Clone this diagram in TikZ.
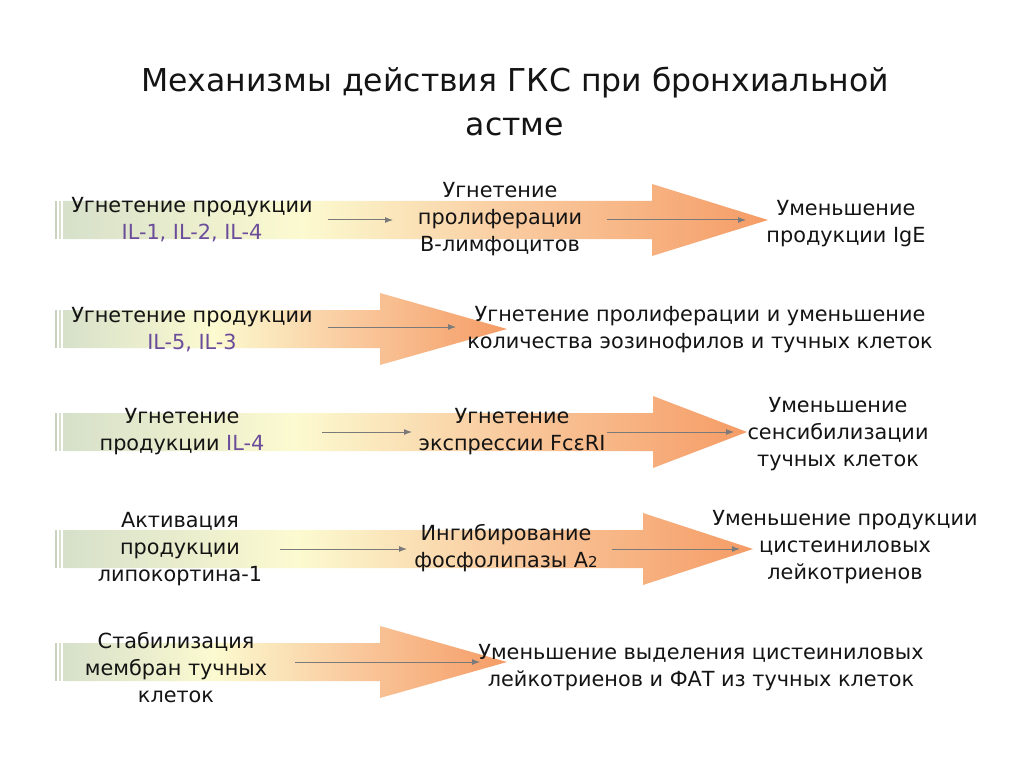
\documentclass[tikz,border=0pt]{standalone}
\usepackage{fontspec}
\setmainfont{DejaVu Sans}
\usetikzlibrary{arrows.meta}
\definecolor{tailc}{HTML}{D6E0CA}
\definecolor{midc}{HTML}{FCFAD0}
\definecolor{warmc}{HTML}{F9C89C}
\definecolor{headc}{HTML}{F59C66}
\pgfdeclarehorizontalshading{bigarrowshade}{100bp}{color(0bp)=(tailc); color(25bp)=(tailc); color(42bp)=(midc); color(58bp)=(warmc); color(75bp)=(headc); color(100bp)=(headc)}
\newcommand\bigarrow[3]{%
\fill[tailc!85!gray] (55,#1-19) rectangle (57,#1+19);
\fill[tailc] (59,#1-19) rectangle (61,#1+19);
\shade[shading=bigarrowshade] (63,#1-19) -- (#2,#1-19) -- (#2,#1-36) -- (#3,#1) -- (#2,#1+36) -- (#2,#1+19) -- (63,#1+19) -- cycle;}
\begin{document}
\begin{tikzpicture}[x=1pt,y=-1pt,
  txt/.style={align=center,inner sep=0pt,text=ink,font=\fontsize{20.8}{27}\selectfont},
  thin/.style={color0,line width=1pt,-{Latex[length=8pt,width=6pt]}}]
\definecolor{color0}{HTML}{7A7A7A}
\definecolor{ink}{HTML}{141414}
\definecolor{il}{HTML}{6B4C9A}
\useasboundingbox[fill=white] (0,0) rectangle (1024,767);
\node[txt,font=\fontsize{31.5}{44}\selectfont] (title) at (515,101) {Механизмы действия ГКС при бронхиальной\\астме};
\bigarrow{220}{652}{768}
\bigarrow{329}{380}{507}
\bigarrow{432}{653}{747}
\bigarrow{549}{643}{753}
\bigarrow{662}{380}{507}
\node[txt] (l1) at (192,220) {Угнетение продукции\\\textcolor{il}{IL-1, IL-2, IL-4}};
\node[txt] (m1) at (500,219) {Угнетение\\пролиферации\\В-лимфоцитов};
\node[txt] (r1) at (846,224) {Уменьшение\\продукции IgE};
\node[txt] (l2) at (192,330) {Угнетение продукции\\\textcolor{il}{IL-5, IL-3}};
\node[txt] (r2) at (700,330) {Угнетение пролиферации и уменьшение\\количества эозинофилов и тучных клеток};
\node[txt] (l3) at (182,432) {Угнетение\\продукции \textcolor{il}{IL-4}};
\node[txt] (m3) at (512,432) {Угнетение\\экспрессии FcεRI};
\node[txt] (r3) at (838,434) {Уменьшение\\сенсибилизации\\тучных клеток};
\node[txt] (l4) at (180,549) {Активация\\продукции\\липокортина-1};
\node[txt] (m4) at (506,548) {Ингибирование\\фосфолипазы A{\fontsize{15}{15}\selectfont 2}};
\node[txt] (r4) at (845,547) {Уменьшение продукции\\цистеиниловых\\лейкотриенов};
\node[txt] (l5) at (176,668) {Стабилизация\\мембран тучных\\клеток};
\node[txt] (r5) at (701,668) {Уменьшение выделения цистеиниловых\\лейкотриенов и ФАТ из тучных клеток};
\coordinate (a1) at (328,220);
\coordinate (b1) at (393,220);
\coordinate (c1) at (607,220);
\coordinate (d1) at (746,220);
\coordinate (a2) at (328,327);
\coordinate (b2) at (456,327);
\coordinate (a3) at (322,432);
\coordinate (b3) at (412,432);
\coordinate (c3) at (607,432);
\coordinate (d3) at (734,432);
\coordinate (a4) at (280,549);
\coordinate (b4) at (407,549);
\coordinate (c4) at (612,549);
\coordinate (d4) at (740,549);
\coordinate (a5) at (295,662);
\coordinate (b5) at (480,662);
\draw[thin] (a1) -- (b1);
\draw[thin] (c1) -- (d1);
\draw[thin] (a2) -- (b2);
\draw[thin] (a3) -- (b3);
\draw[thin] (c3) -- (d3);
\draw[thin] (a4) -- (b4);
\draw[thin] (c4) -- (d4);
\draw[thin] (a5) -- (b5);
\end{tikzpicture}
\end{document}
